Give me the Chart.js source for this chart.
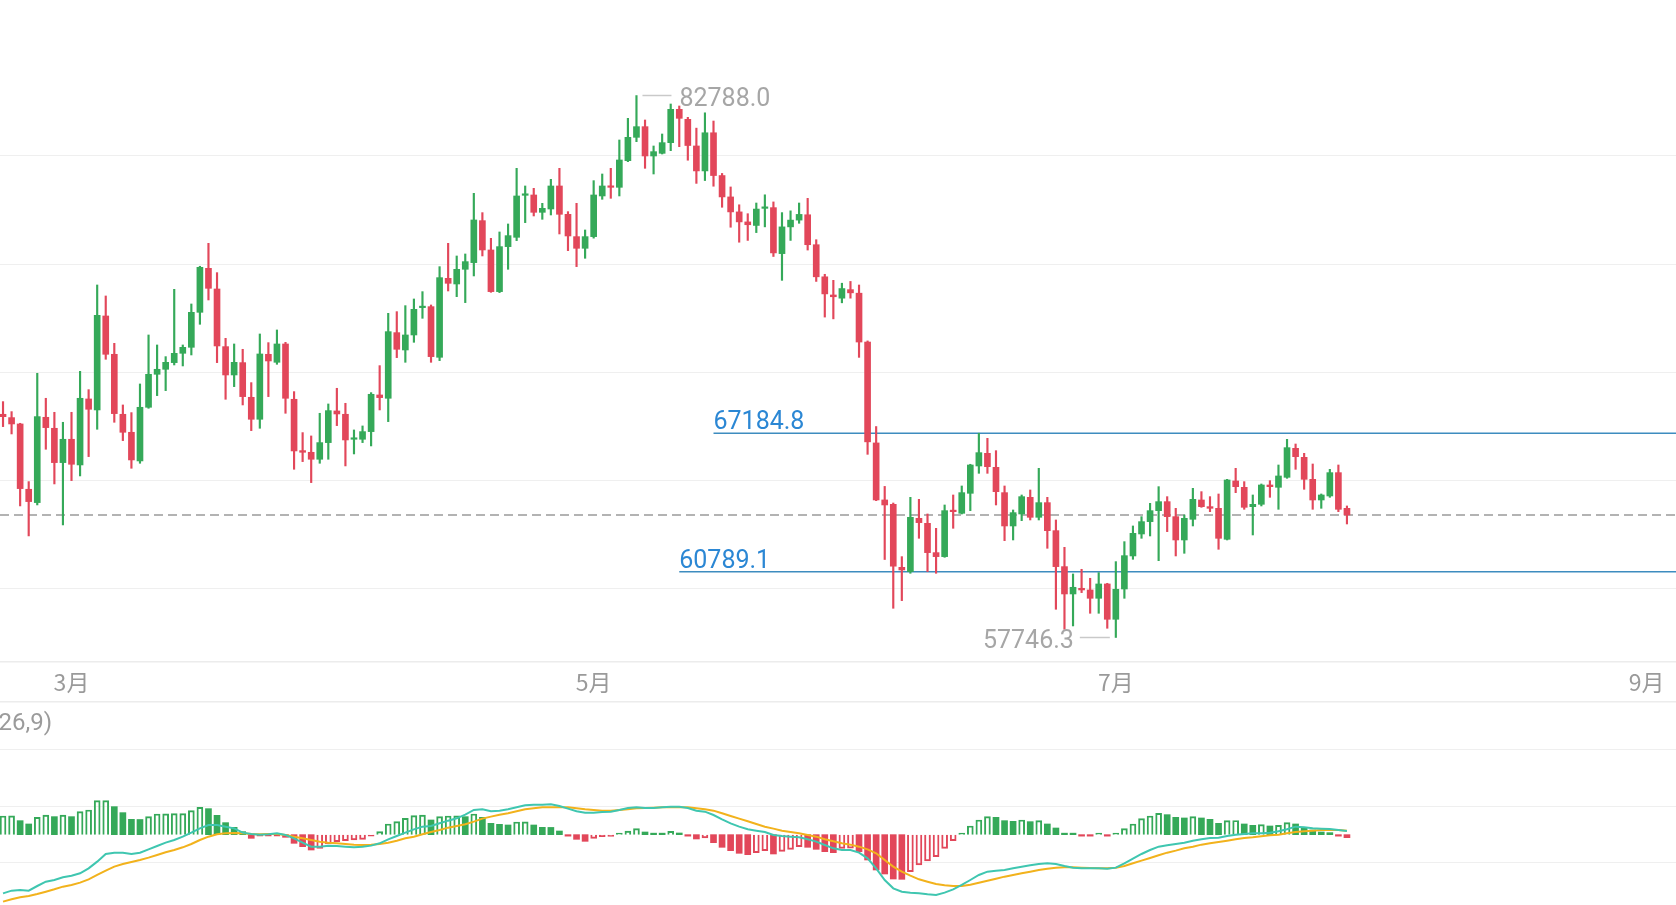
<!DOCTYPE html>
<html>
<head>
<meta charset="utf-8">
<script src="https://cdn.jsdelivr.net/npm/chart.js@4.4.1/dist/chart.umd.min.js"></script>
<style>
    body { margin: 0; background: #fff; overflow: hidden; }
    #wrap { position: relative; width: 1676px; height: 905px; }
    #kline { position: absolute; left: 0; top: 0; }
    #macd { position: absolute; left: 0; top: 700px; }
</style>
</head>
<body>
<div id="wrap">
    <canvas id="kline" width="1676" height="702"></canvas>
    <canvas id="macd" width="1676" height="205"></canvas>
</div>
<script>
// days are counted from 3月1日, one candle per day
const startDay = -8;
const monthLabels = ['3月', '5月', '7月', '9月'];
const monthDays = [0, 61, 122, 184];

const opens = [
    68060, 67906, 67613, 64595, 63979, 67921, 67413, 65827, 66905, 65719,
    68768, 68260, 72603, 70832, 68060, 67228, 65904, 68383, 69908, 70139,
    70447, 70878, 71155, 72772, 74805, 73850, 71186, 69877, 70447, 68845,
    67829, 70832, 70462, 71309, 68753, 66381, 66304, 65981, 66751, 68214,
    68060, 66905, 66905, 67259, 68953, 68799, 71833, 71032, 71725, 72988,
    73034, 70693, 74343, 74081, 74760, 75068, 77008, 75653, 73728, 75807,
    76238, 78179, 78194, 77393, 77547, 78610, 77301, 76269, 75730, 76269,
    78148, 78610, 78548, 79780, 80858, 81351, 79996, 80119, 80612, 82152,
    81690, 80459, 79306, 81069, 79092, 78104, 77412, 76950, 76786, 77576,
    77609, 75484, 76720, 77033, 77280, 75896, 74413, 73573, 73425, 73820,
    73656, 71399, 66736, 64101, 63900, 60989, 60789, 63253, 63022, 61667,
    61482, 63607, 63484, 64408, 65671, 66256, 65609, 64439, 62899, 63453,
    64223, 63299, 63977, 62683, 61020, 59757, 60019, 59942, 59557, 60219,
    58587, 59987, 61513, 62529, 63099, 63607, 64023, 63330, 62252, 63207,
    64100, 63792, 63715, 62283, 64978, 64685, 63792, 63900, 64793, 64685,
    65147, 66487, 66071, 65055, 64100, 64285, 65363, 63715
];
const highs = [
    68645, 68183, 67644, 64949, 69954, 68799, 68152, 67690, 68152, 70046,
    69199, 74035, 73527, 71340, 68491, 68137, 69461, 71725, 71263, 70724,
    73835, 71263, 73157, 74900, 75960, 74605, 71571, 71309, 71063, 69523,
    71771, 71371, 71956, 71386, 69107, 67213, 67059, 68106, 68537, 69261,
    68568, 67336, 67521, 69061, 70308, 72726, 72803, 73080, 73388, 73727,
    73111, 74882, 75960, 75375, 75468, 78271, 77378, 76192, 76485, 76854,
    79426, 78610, 78502, 77809, 78918, 79426, 77424, 77809, 76577, 78856,
    79164, 79426, 80735, 81736, 82788, 81659, 80458, 81012, 82398, 82306,
    81782, 81283, 81991, 81612, 79190, 78565, 77741, 77329, 77823, 78202,
    77873, 77379, 77461, 77823, 78038, 76127, 74529, 74249, 74117, 74199,
    74034, 71450, 67494, 64727, 63960, 61482, 64223, 64131, 63453, 62791,
    63869, 64331, 64747, 65750, 67185, 66949, 66379, 64747, 63638, 64331,
    64562, 65563, 64223, 63176, 61913, 60681, 60897, 60481, 60743, 60250,
    61251, 62174, 62899, 63330, 63946, 64716, 64254, 63715, 63407, 64639,
    64485, 64254, 64377, 65055, 65563, 64947, 64331, 64839, 64993, 65717,
    66903, 66687, 66256, 65763, 64377, 65517, 65717, 63823
];
const lows = [
    67490, 67151, 63825, 62439, 63871, 66443, 64841, 62947, 64995, 65211,
    66104, 67367, 70601, 67690, 66843, 65565, 65796, 68337, 68922, 69153,
    70339, 70293, 70801, 72218, 73342, 70447, 68753, 69338, 68491, 67305,
    67413, 68876, 70370, 68106, 65519, 65873, 64903, 65796, 65981, 67536,
    65673, 66227, 66751, 66597, 68260, 67721, 70678, 70462, 71386, 72495,
    70462, 70539, 73758, 73496, 73220, 74452, 75376, 73697, 73682, 74760,
    76084, 76916, 77224, 77070, 77270, 76392, 75622, 74883, 75268, 76200,
    77994, 78040, 78148, 79734, 80658, 79426, 79164, 80088, 80242, 80427,
    79800, 78730, 78861, 78598, 77626, 76703, 76011, 76094, 76456, 76720,
    75352, 74249, 76094, 76885, 75649, 74199, 72552, 72469, 73211, 73425,
    70690, 66209, 64068, 61349, 59095, 59449, 60712, 62329, 60789, 60712,
    61451, 62791, 63453, 63607, 65332, 65332, 63869, 62221, 62252, 63145,
    63176, 63176, 61867, 59049, 58125, 58279, 59819, 58864, 58864, 58171,
    57746.3, 59556, 61359, 62329, 62437, 61296, 62637, 61513, 61636, 62899,
    63761, 63561, 61821, 62252, 64439, 63669, 62483, 63823, 64223, 63669,
    65101, 65517, 64593, 63669, 63715, 64223, 63561, 62991
];
const closes = [
    67950, 67613, 64626, 64025, 67952, 67444, 65827, 66905, 65750, 68799,
    68291, 72634, 70832, 68091, 67228, 65950, 68383, 69908, 70139, 70462,
    70878, 71155, 72772, 74851, 73881, 71217, 69877, 70462, 68876, 67829,
    70847, 70524, 71309, 68799, 66366, 66304, 65981, 66751, 68229, 68075,
    66874, 66951, 67259, 68984, 68830, 71879, 71063, 71725, 72911, 73034,
    70724, 74374, 74112, 74759, 75114, 77039, 75653, 73728, 75807, 76315,
    78148, 78209, 77393, 77578, 78610, 77301, 76300, 75730, 76269, 78194,
    78610, 78548, 79811, 80858, 81351, 79996, 80196, 80612, 82152, 81736,
    80480, 79306, 81069, 79092, 78104, 77412, 76950, 76819, 77543, 77642,
    75517, 76720, 77033, 77296, 75896, 74413, 73623, 73491, 73870, 73672,
    71399, 66786, 64101, 63870, 61040, 60866, 63299, 63053, 61667, 61482,
    63607, 63561, 64439, 65717, 66287, 65640, 64485, 62899, 63515, 64254,
    63299, 63977, 62683, 61020, 59757, 60065, 59942, 59557, 60219, 58587,
    59973, 61527, 62560, 63099, 63607, 64023, 63330, 62252, 63253, 64131,
    63792, 63715, 62329, 65024, 64716, 63761, 63900, 64793, 64716, 65209,
    66518, 66102, 65055, 64100, 64331, 65363, 63669, 63407
];

// MACD(12,26,9)
const macdHist = [
    659, 665, 494, 377, 612, 694, 636, 694, 636, 812,
    871, 1200, 1205, 989, 777, 541, 535, 636, 730, 735,
    740, 745, 847, 965, 918, 683, 424, 259, 106, -130,
    -50, -40, -15, -94, -306, -424, -542, -483, -330, -247,
    -212, -188, -165, -47, 106, 377, 459, 577, 671, 694,
    518, 636, 659, 665, 636, 730, 612, 400, 365, 341,
    447, 450, 341, 259, 255, 129, -35, -165, -236, -130,
    -71, -59, 35, 129, 212, 94, 35, 30, 118, 59,
    -35, -153, -118, -283, -447, -565, -659, -706, -636, -565,
    -683, -589, -518, -424, -447, -518, -600, -636, -483, -478,
    -600, -895, -1248, -1389, -1566, -1577, -1307, -1071, -930, -777,
    -483, -212, 24, 306, 518, 636, 612, 494, 471, 518,
    459, 494, 377, 235, 47, 40, -24, -35, 35, -35,
    35, 212, 377, 565, 659, 753, 706, 612, 589, 636,
    589, 541, 400, 494, 500, 377, 330, 353, 306, 330,
    424, 377, 259, 165, 94, 71, -35, -106
];
const macdDif = [
    -2072, -1977, -1954, -1977, -1813, -1660, -1601, -1507, -1448, -1365,
    -1189, -953, -683, -636, -636, -683, -636, -518, -400, -283,
    -188, -71, 71, 223, 341, 341, 282, 223, 71, 23,
    0, 12, 47, -12, -130, -283, -424, -424, -388, -400,
    -424, -447, -424, -388, -306, -165, -47, 71, 188, 282,
    306, 400, 494, 577, 710, 871, 894, 824, 847, 894,
    965, 1036, 1059, 1059, 1071, 1012, 918, 824, 777, 777,
    800, 812, 871, 941, 965, 941, 941, 965, 989, 989,
    941, 847, 812, 694, 541, 400, 282, 188, 141, 94,
    -12, -47, -71, -94, -165, -247, -365, -483, -542, -542,
    -636, -836, -1189, -1601, -1895, -2013, -2048, -2072, -2107, -2130,
    -2048, -1930, -1777, -1601, -1424, -1307, -1271, -1248, -1189, -1130,
    -1083, -1036, -1012, -1036, -1106, -1165, -1189, -1189, -1189, -1201,
    -1165, -1012, -848, -683, -542, -424, -377, -330, -283, -212,
    -165, -118, -106, -47, 0, 24, 47, 47, 71, 118,
    188, 282, 259, 223, 212, 200, 165, 129
];
const macdDea = [
    -2366, -2283, -2213, -2166, -2095, -2013, -1930, -1836, -1777, -1695,
    -1577, -1424, -1271, -1130, -1036, -965, -895, -812, -718, -624,
    -542, -447, -330, -188, -71, 12, 47, 59, 47, 23,
    12, 23, 23, -12, -71, -130, -188, -247, -283, -306,
    -330, -353, -365, -353, -330, -283, -212, -130, -71, 12,
    94, 165, 247, 306, 370, 459, 565, 636, 706, 753,
    824, 894, 930, 965, 965, 965, 965, 930, 894, 871,
    847, 847, 871, 894, 930, 941, 953, 965, 965, 965,
    965, 930, 894, 847, 753, 659, 565, 471, 377, 282,
    212, 141, 94, 47, -12, -71, -165, -236, -306, -353,
    -424, -518, -659, -895, -1130, -1307, -1448, -1577, -1660, -1742,
    -1789, -1813, -1813, -1766, -1695, -1625, -1554, -1483, -1424, -1365,
    -1307, -1248, -1201, -1165, -1154, -1154, -1165, -1177, -1189, -1189,
    -1165, -1106, -1012, -918, -824, -730, -636, -565, -483, -424,
    -353, -306, -259, -212, -165, -118, -94, -59, -24, 0,
    47, 94, 118, 141, 165, 165, 165, 141
];

// drawn price levels
const levelValues = [67184.8, 60789.1];
const levelStartDays = [75, 71];

const upColor = '#35a959';
const downColor = '#e2475a';
const xMin = -8.353;
const xMax = 187.44;

let days = opens.map((v, i) => startDay + i);
let candleColors = opens.map((o, i) => closes[i] >= o ? upColor : downColor);

let monthAxisTicks = function (scale) {
    scale.ticks = monthDays.map(v => ({ value: v }));
};

//- overlay for the price chart: last price, levels, high / low marks -
let priceOverlay = {
    id: 'priceOverlay',
    beforeDatasetsDraw(chart) {
        let ctx = chart.ctx;
        let xs = chart.scales.x;
        let ys = chart.scales.y;
        let area = chart.chartArea;
        ctx.save();
        // last close, dashed
        let yLast = ys.getPixelForValue(closes[closes.length - 1]);
        ctx.strokeStyle = '#b3b3b3';
        ctx.lineWidth = 2;
        ctx.setLineDash([9, 5]);
        ctx.beginPath();
        ctx.moveTo(area.left, yLast);
        ctx.lineTo(area.right, yLast);
        ctx.stroke();
        ctx.setLineDash([]);
        // levels
        ctx.strokeStyle = '#3d8cbf';
        ctx.lineWidth = 1.5;
        levelValues.forEach((v, i) => {
            let y = ys.getPixelForValue(v);
            ctx.beginPath();
            ctx.moveTo(xs.getPixelForValue(levelStartDays[i]), y);
            ctx.lineTo(area.right, y);
            ctx.stroke();
        });
        ctx.restore();
    },
    afterDatasetsDraw(chart) {
        let ctx = chart.ctx;
        let xs = chart.scales.x;
        let ys = chart.scales.y;
        ctx.save();
        ctx.font = '25px Roboto';
        ctx.fillStyle = '#2b87d4';
        ctx.textAlign = 'left';
        ctx.textBaseline = 'alphabetic';
        levelValues.forEach((v, i) => {
            ctx.fillText(v.toFixed(1), xs.getPixelForValue(levelStartDays[i]), ys.getPixelForValue(v) - 4);
        });

        let hi = Math.max(...highs);
        let lo = Math.min(...lows);
        let xHi = xs.getPixelForValue(days[highs.indexOf(hi)]);
        let yHi = ys.getPixelForValue(hi);
        let xLo = xs.getPixelForValue(days[lows.indexOf(lo)]);
        let yLo = ys.getPixelForValue(lo);
        ctx.strokeStyle = '#c9c9c9';
        ctx.lineWidth = 1.5;
        ctx.beginPath();
        ctx.moveTo(xHi + 6, yHi);
        ctx.lineTo(xHi + 35, yHi);
        ctx.moveTo(xLo - 36, yLo);
        ctx.lineTo(xLo - 6, yLo);
        ctx.stroke();
        ctx.fillStyle = '#a6a6a6';
        ctx.textBaseline = 'middle';
        ctx.textAlign = 'left';
        ctx.fillText(hi.toFixed(1), xHi + 43, yHi + 4);
        ctx.textAlign = 'right';
        ctx.fillText(lo.toFixed(1), xLo - 42, yLo + 4);
        ctx.restore();
    }
};

//- Price candles -
//-------------
let klineCanvas = document.getElementById('kline').getContext('2d');
new Chart(klineCanvas, {
    type: 'bar',
    data: {
        datasets: [
            {
                label: 'wick',
                data: days.map((d, i) => ({ x: d, y: [lows[i], highs[i]] })),
                backgroundColor: candleColors,
                barThickness: 1.5,
                grouped: false,
                order: 2
            },
            {
                label: 'body',
                data: days.map((d, i) => ({ x: d, y: [opens[i], closes[i]] })),
                backgroundColor: candleColors,
                barThickness: 6,
                minBarLength: 1.5,
                grouped: false,
                order: 1
            }
        ]
    },
    options: {
        responsive: false,
        animation: false,
        layout: { padding: 0 },
        plugins: { legend: { display: false }, tooltip: { enabled: false } },
        scales: {
            x: {
                type: 'linear',
                min: xMin,
                max: xMax,
                offset: false,
                grid: { display: false, drawTicks: false },
                border: { color: '#ececec', width: 1.5 },
                afterBuildTicks: monthAxisTicks,
                afterFit: s => { s.height = 40; },
                ticks: {
                    autoSkip: false,
                    maxRotation: 0,
                    padding: 6,
                    color: '#9a9a9a',
                    font: { size: 23, family: "'Noto Sans CJK SC', Roboto, sans-serif" },
                    callback: v => monthLabels[monthDays.indexOf(v)] || ''
                }
            },
            y: {
                min: 56613,
                max: 87204,
                beginAtZero: false,
                afterBuildTicks: s => { s.ticks = [60000, 65000, 70000, 75000, 80000].map(v => ({ value: v })); },
                afterFit: s => { s.width = 0; },
                ticks: { display: false },
                grid: { color: '#efefef', lineWidth: 1, drawTicks: false },
                border: { display: false }
            }
        }
    },
    plugins: [priceOverlay]
});

//- MACD panel -
//-------------
let macdTitle = {
    id: 'macdTitle',
    afterDraw(chart) {
        let ctx = chart.ctx;
        ctx.save();
        ctx.font = '24px Roboto';
        ctx.fillStyle = '#9b9b9b';
        ctx.textAlign = 'right';
        ctx.textBaseline = 'middle';
        ctx.fillText('MACD(12,26,9)', 52, 24);
        ctx.restore();
    }
};

// hollow bar when the histogram rises against the day before
let histHollow = i => i === 0 || macdHist[i] > macdHist[i - 1];
let histColor = i => macdHist[i] >= 0 ? upColor : downColor;

let macdCanvas = document.getElementById('macd').getContext('2d');
new Chart(macdCanvas, {
    type: 'bar',
    data: {
        datasets: [
            {
                type: 'line',
                label: 'DIF',
                data: days.map((d, i) => ({ x: d, y: macdDif[i] })),
                borderColor: '#3fc6b0',
                borderWidth: 2,
                pointRadius: 0,
                order: 1
            },
            {
                type: 'line',
                label: 'DEA',
                data: days.map((d, i) => ({ x: d, y: macdDea[i] })),
                borderColor: '#f2b21c',
                borderWidth: 2,
                pointRadius: 0,
                order: 1
            },
            {
                label: 'MACD',
                data: days.map((d, i) => ({ x: d, y: macdHist[i] })),
                backgroundColor: ctx => histHollow(ctx.dataIndex) ? 'rgba(0,0,0,0)' : histColor(ctx.dataIndex),
                borderColor: ctx => histColor(ctx.dataIndex),
                borderWidth: ctx => histHollow(ctx.dataIndex) ? 1.3 : 0,
                barThickness: 6,
                minBarLength: 1.5,
                grouped: false,
                order: 2
            }
        ]
    },
    options: {
        responsive: false,
        animation: false,
        layout: { padding: { top: 2 } },
        plugins: { legend: { display: false }, tooltip: { enabled: false } },
        scales: {
            x: {
                type: 'linear',
                position: 'top',
                min: xMin,
                max: xMax,
                offset: false,
                grid: { display: false, drawTicks: false },
                border: { color: '#ececec', width: 1.5 },
                ticks: { display: false },
                afterFit: s => { s.height = 0; }
            },
            y: {
                min: -2484,
                max: 4684,
                beginAtZero: false,
                afterBuildTicks: s => { s.ticks = [-1000, 1000, 3000].map(v => ({ value: v })); },
                afterFit: s => { s.width = 0; },
                ticks: { display: false },
                grid: { color: '#efefef', lineWidth: 1, drawTicks: false },
                border: { display: false }
            }
        }
    },
    plugins: [macdTitle]
});
</script>
</body>
</html>
